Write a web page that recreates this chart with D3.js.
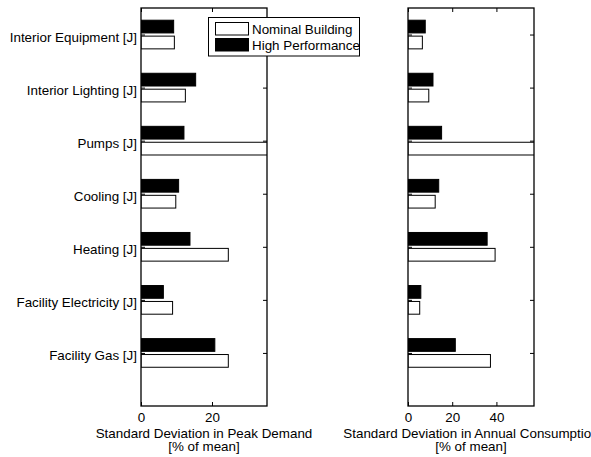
<!DOCTYPE html>
<html>
<head>
<meta charset="utf-8">
<script src="https://cdn.jsdelivr.net/npm/d3@7"></script>
<style>
  html, body { margin: 0; padding: 0; background: #fff; }
  svg text { font-family: "Liberation Sans", Arial, sans-serif; fill: #000; }
</style>
</head>
<body>
<svg id="chart" width="591" height="457"></svg>
<script>
// Categories listed bottom-to-top (barh order)
const categories = [
  "Facility Gas [J]",
  "Facility Electricity [J]",
  "Heating [J]",
  "Cooling [J]",
  "Pumps [J]",
  "Interior Lighting [J]",
  "Interior Equipment [J]"
];
const seriesNames = ["Nominal Building", "High Performance"];

// Standard deviation in peak demand [% of mean]
const peakNominal = [24.6, 8.9, 24.6, 9.8, 100, 12.5, 9.4];
const peakHigh    = [20.8, 6.3, 13.8, 10.6, 12.1, 15.4, 9.2];

// Standard deviation in annual consumption [% of mean]
const annualNominal = [37.3, 5.3, 39.4, 12.3, 100, 9.4, 6.5];
const annualHigh    = [21.4, 5.8, 35.8, 13.9, 15.2, 11.3, 7.8];

const peakTicks = [0, 20, 40];
const annualTicks = [0, 20, 40];

const FONT = 13.4;
const svg = d3.select("#chart");
const plotTop = 8, plotBottom = 406;

const y = d3.scaleLinear().domain([0, 7.5]).range([plotBottom, plotTop]);
const barH = 0.24, barOff = 0.15;

function panel(id, x0, x1, xmax, nominal, high, ticks, title) {
  const x = d3.scaleLinear().domain([0, xmax]).range([x0, x1]);
  const g = svg.append("g");

  g.append("clipPath").attr("id", id)
    .append("rect").attr("x", x0).attr("y", plotTop)
    .attr("width", x1 - x0).attr("height", plotBottom - plotTop);

  const bars = g.append("g").attr("clip-path", `url(#${id})`);
  const rows = categories.map((c, i) => ({ i: i + 1, nom: nominal[i], high: high[i] }));

  // Nominal (white) below the category centre
  bars.selectAll("rect.nom").data(rows).join("rect")
    .attr("class", "nom")
    .attr("x", x(0))
    .attr("y", d => y(d.i - barOff + barH / 2))
    .attr("width", d => x(d.nom) - x(0))
    .attr("height", d => y(0) - y(barH))
    .attr("fill", "#fff").attr("stroke", "#000").attr("stroke-width", 1);

  // High performance (black) above the category centre
  bars.selectAll("rect.high").data(rows).join("rect")
    .attr("class", "high")
    .attr("x", x(0))
    .attr("y", d => y(d.i + barOff + barH / 2))
    .attr("width", d => x(d.high) - x(0))
    .attr("height", d => y(0) - y(barH))
    .attr("fill", "#000").attr("stroke", "#000").attr("stroke-width", 1);

  // Axes with inward ticks on all four sides
  const tickLen = 4;
  const shown = ticks.filter(t => t <= xmax);
  const axB = g.append("g").attr("transform", `translate(0,${plotBottom})`)
    .call(d3.axisBottom(x).tickValues(shown).tickSizeInner(-tickLen).tickSizeOuter(0).tickFormat(d3.format("d")));
  const axT = g.append("g").attr("transform", `translate(0,${plotTop})`)
    .call(d3.axisTop(x).tickValues(shown).tickSizeInner(-tickLen).tickSizeOuter(0).tickFormat(""));
  const yIdx = d3.range(1, categories.length + 1);
  const axL = g.append("g").attr("transform", `translate(${x0},0)`)
    .call(d3.axisLeft(y).tickValues(yIdx).tickSizeInner(-tickLen).tickSizeOuter(0).tickFormat(""));
  const axR = g.append("g").attr("transform", `translate(${x1},0)`)
    .call(d3.axisRight(y).tickValues(yIdx).tickSizeInner(-tickLen).tickSizeOuter(0).tickFormat(""));
  [axB, axT, axL, axR].forEach(a => {
    a.select(".domain").remove();
    a.selectAll("line").attr("stroke", "#000");
    a.selectAll("text").attr("font-size", FONT).attr("font-family", "Liberation Sans, Arial, sans-serif");
  });
  axB.selectAll("text").attr("dy", null).attr("y", 16);

  g.append("rect").attr("x", x0).attr("y", plotTop)
    .attr("width", x1 - x0).attr("height", plotBottom - plotTop)
    .attr("fill", "none").attr("stroke", "#000").attr("stroke-width", 1.3);

  const cx = (x0 + x1) / 2;
  g.append("text").attr("x", cx).attr("y", 437.5).attr("text-anchor", "middle")
    .attr("font-size", FONT).text(title);
  g.append("text").attr("x", cx).attr("y", 451).attr("text-anchor", "middle")
    .attr("font-size", FONT).text("[% of mean]");
  return x;
}

panel("clipPeak", 141, 267, 35.5, peakNominal, peakHigh, peakTicks,
  "Standard Deviation in Peak Demand");
panel("clipAnnual", 408, 534, 57, annualNominal, annualHigh, annualTicks,
  "Standard Deviation in Annual Consumption");

// Category labels
svg.append("g").selectAll("text").data(categories).join("text")
  .attr("x", 137)
  .attr("y", (d, i) => y(i + 1) + 7)
  .attr("text-anchor", "end")
  .attr("font-size", FONT)
  .text(d => d);

// Legend
const lg = svg.append("g");
lg.append("rect").attr("x", 208.5).attr("y", 17.5).attr("width", 151).attr("height", 38.5)
  .attr("fill", "#fff").attr("stroke", "#000").attr("stroke-width", 1);
const swFill = ["#fff", "#000"];
seriesNames.forEach((s, i) => {
  lg.append("rect").attr("x", 215.5).attr("y", 22.5 + i * 16).attr("width", 33).attr("height", 12.5)
    .attr("fill", swFill[i]).attr("stroke", "#000").attr("stroke-width", 1);
  lg.append("text").attr("x", 252).attr("y", 33.5 + i * 16).attr("font-size", FONT).text(s);
});
</script>
</body>
</html>
